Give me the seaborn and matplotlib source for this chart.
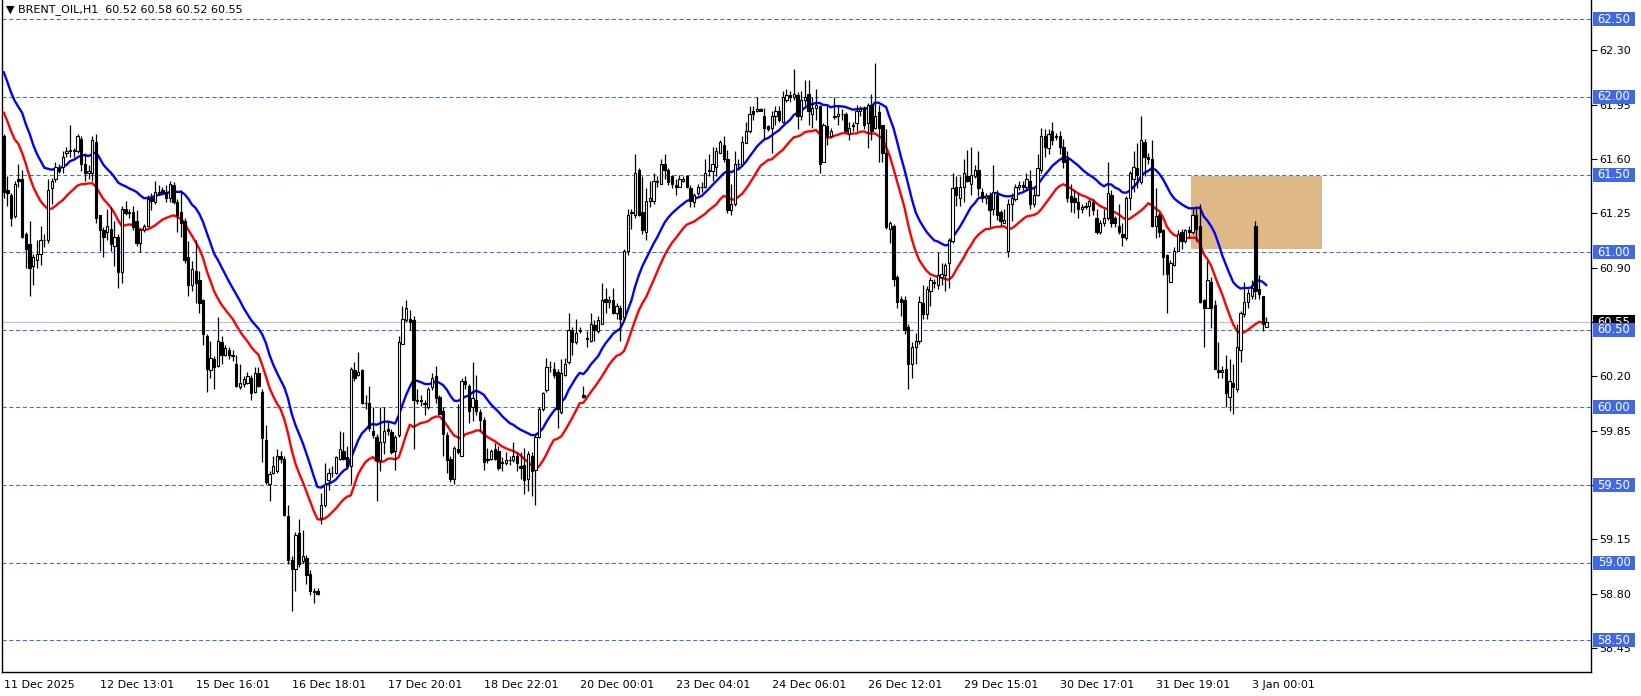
import numpy as np
import pandas as pd
import matplotlib
matplotlib.use("Agg")
import matplotlib.pyplot as plt
import matplotlib.transforms as mtransforms
from matplotlib.patches import Rectangle
import seaborn as sns

sns.set_theme(style="white")
plt.rcParams["font.family"] = ["DejaVu Sans"]

# ---------------- data ----------------
symbol = "BRENT_OIL,H1"

open_ = [
    61.75, 61.40, 61.37, 61.23, 61.47, 61.47, 61.12, 61.05, 60.91, 60.95, 60.99, 61.08, 61.08, 61.41, 61.47, 61.54, 61.55,
    61.64, 61.65, 61.65, 61.65, 61.73, 61.57, 61.51, 61.51, 61.71, 61.24, 61.14, 61.13, 61.15, 61.04, 61.10, 60.87, 61.28,
    61.25, 61.26, 61.20, 61.06, 61.14, 61.17, 61.35, 61.32, 61.38, 61.40, 61.39, 61.35, 61.43, 61.32, 61.26, 61.20, 60.97,
    60.79, 60.88, 60.82, 60.69, 60.46, 60.24, 60.31, 60.27, 60.42, 60.34, 60.37, 60.34, 60.28, 60.13, 60.15, 60.16, 60.19,
    60.10, 60.22, 60.10, 59.79, 59.51, 59.58, 59.59, 59.69, 59.67, 59.30, 59.02, 58.96, 59.19, 59.01, 59.03, 58.93, 58.81,
    58.82, 59.29, 59.37, 59.53, 59.58, 59.58, 59.67, 59.72, 59.68, 59.62, 60.24, 60.21, 60.24, 60.03, 60.03, 59.85, 59.81,
    59.66, 59.78,
    59.86, 59.84, 59.72, 59.82, 60.41, 60.56, 60.57, 60.56, 60.04, 60.05, 60.03, 60.00, 60.13, 60.20, 60.07, 59.98, 59.82,
    59.67, 59.54, 59.73, 59.69, 60.17, 60.14, 60.00, 60.05, 59.97, 59.92, 59.66, 59.67, 59.73, 59.72, 59.64, 59.64, 59.66,
    59.66, 59.69, 59.62, 59.63, 59.54, 59.69, 59.60, 59.81, 59.99, 60.11, 60.26, 60.25, 60.23, 59.97, 60.21, 60.29,
    60.50, 60.42, 60.49, 60.08, 60.44, 60.43, 60.53, 60.49, 60.54, 60.70, 60.68, 60.69, 60.61, 60.64, 60.58, 61.01, 61.25,
    61.24, 61.53, 61.26, 61.13, 61.33, 61.33, 61.46, 61.44, 61.57, 61.53, 61.49, 61.43, 61.42, 61.46, 61.49, 61.41, 61.32,
    61.38, 61.42, 61.42, 61.52, 61.52, 61.55, 61.64, 61.69, 61.60, 61.27, 61.31, 61.57, 61.57, 61.70, 61.78, 61.91, 61.91,
    61.92,
    61.88, 61.81, 61.80, 61.88, 61.91, 61.84, 61.98, 62.01, 62.00, 62.01, 61.88, 61.98, 62.02, 61.89, 61.93, 61.94, 61.58,
    61.81, 61.75, 61.87, 61.88, 61.89, 61.89, 61.76, 61.81, 61.83, 61.91, 61.93, 61.83, 61.95, 61.80, 61.90, 61.82, 61.64,
    61.15, 61.17, 60.84, 60.70, 60.69, 60.52, 60.28, 60.39, 60.43, 60.67, 60.60, 60.75, 60.80, 60.79, 60.84, 60.85, 60.93,
    61.07, 61.42, 61.35, 61.42, 61.49, 61.44, 61.49, 61.53, 61.39, 61.35, 61.36, 61.28, 61.37, 61.26, 61.19, 61.01, 61.31,
    61.34, 61.42, 61.43, 61.42, 61.46, 61.31, 61.37, 61.53, 61.75, 61.67, 61.78, 61.74, 61.75, 61.68, 61.60, 61.36, 61.35,
    61.32, 61.28, 61.30, 61.30, 61.32, 61.22, 61.13, 61.19, 61.22, 61.37, 61.22, 61.17, 61.12, 61.09, 61.35, 61.47, 61.54,
    61.45, 61.71, 61.61, 61.60, 61.17, 61.24, 61.14, 60.98, 60.81, 60.92, 61.01, 61.13, 61.07, 61.14, 61.13, 61.24, 61.17,
    60.69, 60.64, 60.81, 60.66, 60.24, 60.23, 60.25, 60.07, 60.16, 60.12, 60.37, 60.60, 60.68, 60.72, 61.17, 60.76, 60.72,
    60.52,
]
high = [
    61.76, 61.49, 61.38, 61.46, 61.57, 61.53, 61.13, 61.20, 60.99, 61.08, 61.17, 61.12, 61.47, 61.48, 61.58, 61.57, 61.65,
    61.68, 61.82, 61.67, 61.76, 61.75, 61.64, 61.56, 61.75, 61.76, 61.24, 61.16, 61.28, 61.29, 61.20, 61.12, 61.30, 61.33,
    61.28, 61.30, 61.27, 61.15, 61.18, 61.37, 61.38, 61.46, 61.43, 61.42, 61.43, 61.46, 61.45, 61.34, 61.40, 61.22, 61.07,
    60.94, 61.08, 60.88, 60.70, 60.47, 60.43, 60.33, 60.58, 60.46, 60.40, 60.39, 60.37, 60.34, 60.28, 60.20, 60.23, 60.21,
    60.26, 60.26, 60.12, 59.89, 59.59, 59.69, 59.73, 59.72, 59.69, 59.37, 59.04, 59.20, 59.28, 59.21, 59.05, 58.95, 58.84,
    58.84, 59.45, 59.64, 59.61, 59.62, 59.69, 59.85, 59.84, 59.75, 60.26, 60.29, 60.36, 60.25, 60.08, 60.14, 60.00, 59.83,
    60.00, 60.00,
    59.91, 59.86, 59.82, 60.46, 60.65, 60.69, 60.63, 60.59, 60.12, 60.08, 60.05, 60.13, 60.22, 60.27, 60.08, 60.00, 59.84,
    59.69, 59.75, 60.02, 60.19, 60.20, 60.15, 60.29, 60.21, 59.99, 59.94, 59.74, 59.73, 59.77, 59.75, 59.68, 59.71, 59.69,
    59.78, 59.71, 59.71, 59.74, 59.72, 59.71, 59.83, 60.00, 60.10, 60.32, 60.30, 60.29, 60.25, 60.31, 60.32, 60.61,
    60.52, 60.57, 60.52, 60.14, 60.49, 60.61, 60.56, 60.59, 60.80, 60.77, 60.72, 60.77, 60.67, 60.66, 61.02, 61.28, 61.28,
    61.63, 61.54, 61.49, 61.41, 61.46, 61.51, 61.49, 61.60, 61.63, 61.54, 61.50, 61.47, 61.50, 61.49, 61.50, 61.43, 61.38,
    61.44, 61.45, 61.60, 61.63, 61.68, 61.68, 61.72, 61.75, 61.66, 61.44, 61.65, 61.60, 61.75, 61.84, 61.94, 61.94, 62.00,
    61.93,
    61.93, 61.82, 61.91, 61.94, 61.94, 62.04, 62.05, 62.04, 62.18, 62.03, 62.04, 62.11, 62.11, 62.00, 62.05, 61.95, 61.83,
    61.94, 61.80, 62.00, 61.95, 61.92, 61.90, 61.84, 61.84, 61.95, 61.94, 61.94, 61.96, 62.02, 62.22, 61.95, 61.82, 61.79,
    61.20, 61.18, 60.85, 60.72, 60.72, 60.54, 60.42, 60.48, 60.72, 60.79, 60.78, 60.84, 60.83, 61.00, 60.93, 60.93, 61.09,
    61.51, 61.49, 61.49, 61.60, 61.66, 61.68, 61.56, 61.65, 61.41, 61.38, 61.39, 61.56, 61.40, 61.27, 61.28, 61.34, 61.38,
    61.44, 61.46, 61.46, 61.51, 61.53, 61.42, 61.63, 61.80, 61.79, 61.79, 61.84, 61.77, 61.78, 61.73, 61.65, 61.44, 61.40,
    61.38, 61.31, 61.32, 61.34, 61.34, 61.28, 61.21, 61.28, 61.58, 61.40, 61.23, 61.31, 61.19, 61.36, 61.52, 61.65, 61.70,
    61.88, 61.73, 61.64, 61.72, 61.41, 61.26, 61.15, 60.99, 60.95, 61.03, 61.14, 61.15, 61.15, 61.17, 61.28, 61.30, 61.31,
    60.70, 60.94, 60.84, 60.69, 60.42, 60.27, 60.34, 60.31, 60.28, 60.54, 60.62, 60.81, 60.76, 60.82, 61.20, 60.85, 60.72,
    60.58,
]
low = [
    61.35, 61.30, 61.17, 61.22, 61.42, 61.09, 60.90, 60.72, 60.79, 60.90, 60.92, 61.03, 61.06, 61.31, 61.45, 61.51, 61.51,
    61.61, 61.61, 61.61, 61.64, 61.52, 61.46, 61.47, 61.46, 61.19, 61.01, 60.97, 61.08, 61.01, 60.91, 60.77, 60.80, 61.24,
    61.22, 61.14, 61.04, 61.00, 61.13, 61.16, 61.27, 61.31, 61.37, 61.38, 61.32, 61.32, 61.31, 61.13, 61.10, 60.93, 60.72,
    60.75, 60.67, 60.61, 60.40, 60.10, 60.19, 60.12, 60.26, 60.28, 60.33, 60.31, 60.30, 60.13, 60.12, 60.13, 60.15, 60.05,
    60.09, 60.13, 59.65, 59.51, 59.40, 59.57, 59.58, 59.64, 59.30, 58.99, 58.69, 58.82, 58.97, 59.00, 58.86, 58.79, 58.74,
    58.79, 59.25, 59.36, 59.47, 59.55, 59.57, 59.66, 59.66, 59.61, 59.51, 60.17, 60.20, 60.02, 59.99, 59.85, 59.80, 59.40,
    59.59, 59.70,
    59.82, 59.70, 59.60, 59.81, 60.41, 60.55, 60.50, 59.73, 60.02, 60.01, 59.95, 59.99, 60.11, 60.03, 59.96, 59.69, 59.58,
    59.52, 59.51, 59.70, 59.69, 60.12, 59.90, 59.91, 59.95, 59.85, 59.60, 59.64, 59.66, 59.66, 59.60, 59.59, 59.63, 59.63,
    59.65, 59.59, 59.54, 59.44, 59.46, 59.43, 59.37, 59.80, 59.98, 60.10, 60.23, 60.19, 59.87, 59.96, 60.20, 60.28,
    60.34, 60.41, 60.48, 60.06, 60.39, 60.42, 60.43, 60.48, 60.54, 60.61, 60.64, 60.60, 60.57, 60.43, 60.57, 60.98, 61.15,
    61.22, 61.23, 61.12, 61.08, 61.29, 61.31, 61.42, 61.44, 61.47, 61.43, 61.41, 61.37, 61.42, 61.45, 61.41, 61.29, 61.29,
    61.37, 61.39, 61.41, 61.49, 61.46, 61.49, 61.64, 61.58, 61.25, 61.24, 61.30, 61.54, 61.56, 61.70, 61.77, 61.85, 61.90,
    61.91,
    61.73, 61.78, 61.64, 61.82, 61.84, 61.83, 61.97, 61.97, 61.98, 61.79, 61.85, 61.95, 61.82, 61.80, 61.85, 61.51, 61.58,
    61.69, 61.74, 61.86, 61.82, 61.85, 61.77, 61.72, 61.78, 61.78, 61.88, 61.79, 61.67, 61.72, 61.79, 61.58, 61.58, 61.15,
    61.06, 60.78, 60.64, 60.59, 60.47, 60.12, 60.19, 60.28, 60.41, 60.57, 60.57, 60.65, 60.77, 60.76, 60.79, 60.75, 60.77,
    61.06, 61.30, 61.30, 61.32, 61.45, 61.37, 61.48, 61.36, 61.32, 61.31, 61.16, 61.24, 61.21, 61.17, 61.19, 60.97, 61.20,
    61.33, 61.40, 61.40, 61.40, 61.28, 61.29, 61.36, 61.51, 61.61, 61.63, 61.69, 61.72, 61.63, 61.54, 61.32, 61.26, 61.25,
    61.22, 61.25, 61.28, 61.23, 61.24, 61.12, 61.12, 61.17, 61.21, 61.16, 61.16, 61.12, 61.04, 61.08, 61.27, 61.39, 61.41,
    61.44, 61.49, 61.57, 61.16, 61.09, 61.10, 60.85, 60.61, 60.81, 60.91, 61.01, 61.02, 61.06, 61.10, 61.12, 61.07, 60.67,
    60.39, 60.64, 60.51, 60.25, 60.19, 60.19, 60.00, 59.98, 59.96, 60.10, 60.29, 60.58, 60.64, 60.70, 60.70, 60.70, 60.49,
    60.52,
]
close = [
    61.39, 61.38, 61.22, 61.44, 61.46, 61.10, 61.02, 60.90, 60.97, 60.99, 61.08, 61.08, 61.40, 61.46, 61.55, 61.52, 61.61,
    61.65, 61.66, 61.66, 61.75, 61.57, 61.51, 61.52, 61.72, 61.22, 61.14, 61.10, 61.17, 61.05, 61.10, 60.87, 61.28, 61.25,
    61.26, 61.16, 61.06, 61.14, 61.17, 61.34, 61.33, 61.39, 61.39, 61.39, 61.35, 61.44, 61.32, 61.24, 61.19, 60.95, 60.79,
    60.89, 60.80, 60.67, 60.47, 60.25, 60.32, 60.26, 60.43, 60.34, 60.38, 60.34, 60.33, 60.14, 60.16, 60.18, 60.20, 60.09,
    60.22, 60.14, 59.80, 59.52, 59.57, 59.62, 59.69, 59.67, 59.31, 59.02, 58.96, 59.18, 58.99, 59.04, 58.92, 58.82, 58.82,
    58.80, 59.37, 59.51, 59.58, 59.58, 59.68, 59.73, 59.67, 59.62, 60.25, 60.19, 60.23, 60.03, 60.03, 59.87, 59.82, 59.66,
    59.78, 59.85,
    59.85, 59.71, 59.81, 60.42, 60.57, 60.64, 60.55, 60.05, 60.05, 60.04, 60.02, 60.12, 60.19, 60.06, 59.96, 59.83, 59.66,
    59.54, 59.74, 59.71, 60.17, 60.15, 59.98, 60.06, 59.98, 59.92, 59.65, 59.67, 59.72, 59.67, 59.61, 59.65, 59.66, 59.66,
    59.69, 59.64, 59.61, 59.53, 59.70, 59.59, 59.81, 59.99, 60.09, 60.26, 60.26, 60.21, 59.99, 60.22, 60.28, 60.50,
    60.42, 60.48, 60.50, 60.07, 60.45, 60.54, 60.50, 60.56, 60.69, 60.68, 60.69, 60.61, 60.65, 60.57, 61.01, 61.24, 61.26,
    61.51, 61.24, 61.14, 61.33, 61.35, 61.46, 61.45, 61.57, 61.53, 61.45, 61.44, 61.42, 61.47, 61.47, 61.42, 61.33, 61.37,
    61.42, 61.42, 61.51, 61.53, 61.57, 61.65, 61.71, 61.60, 61.27, 61.31, 61.57, 61.57, 61.71, 61.78, 61.89, 61.89, 61.92,
    61.91,
    61.80, 61.79, 61.88, 61.91, 61.85, 62.00, 62.01, 62.00, 62.02, 61.88, 61.98, 62.00, 61.91, 61.93, 61.95, 61.57, 61.82,
    61.75, 61.78, 61.88, 61.89, 61.89, 61.78, 61.80, 61.82, 61.91, 61.92, 61.82, 61.95, 61.78, 61.88, 61.80, 61.64, 61.16,
    61.19, 60.83, 60.68, 60.68, 60.50, 60.28, 60.39, 60.43, 60.68, 60.60, 60.76, 60.82, 60.81, 60.85, 60.86, 60.92, 61.08,
    61.41, 61.37, 61.42, 61.51, 61.46, 61.50, 61.53, 61.41, 61.35, 61.36, 61.27, 61.39, 61.24, 61.20, 61.21, 61.31, 61.35,
    61.42, 61.43, 61.42, 61.47, 61.31, 61.37, 61.54, 61.75, 61.68, 61.76, 61.72, 61.75, 61.68, 61.58, 61.35, 61.32, 61.32,
    61.28, 61.29, 61.29, 61.33, 61.27, 61.13, 61.19, 61.22, 61.38, 61.19, 61.19, 61.13, 61.10, 61.35, 61.51, 61.55, 61.50,
    61.72, 61.61, 61.60, 61.17, 61.23, 61.13, 60.97, 60.86, 60.93, 61.01, 61.12, 61.07, 61.14, 61.13, 61.24, 61.15, 60.68,
    60.64, 60.82, 60.64, 60.25, 60.23, 60.24, 60.09, 60.17, 60.13, 60.39, 60.61, 60.68, 60.74, 60.77, 60.75, 60.73, 60.54,
    60.55,
]
# moving averages: EMA(20) of highs (blue) and of lows (red); values at the first visible bar
ma_period = 20
ma_high_start = 62.16
ma_low_start = 61.90

levels = [62.50, 62.00, 61.50, 61.00, 60.50, 60.00, 59.50, 59.00, 58.50]
price_ticks = [62.30, 61.95, 61.60, 61.25, 60.90, 60.55, 60.20, 59.85, 59.50, 59.15, 58.80, 58.45]
time_labels = ["11 Dec 2025", "12 Dec 13:01", "15 Dec 16:01", "16 Dec 18:01", "17 Dec 20:01",
               "18 Dec 22:01", "20 Dec 00:01", "23 Dec 04:01", "24 Dec 06:01", "26 Dec 12:01",
               "29 Dec 15:01", "30 Dec 17:01", "31 Dec 19:01", "3 Jan 00:01"]
bars_per_label = 26
zone_start_bar, zone_end_bar = 321.6, 357.1
zone_low, zone_high = 61.02, 61.49

# ---------------- frame ----------------
n = len(close)
df = pd.DataFrame({"bar": np.arange(n), "open": open_, "high": high, "low": low, "close": close})
df["ma_high"] = pd.Series([ma_high_start] + high[1:]).ewm(span=ma_period, adjust=False).mean().to_numpy()
df["ma_low"] = pd.Series([ma_low_start] + low[1:]).ewm(span=ma_period, adjust=False).mean().to_numpy()

W, H = 1641, 696
fig = plt.figure(figsize=(W / 100, H / 100), dpi=100)
fig.patch.set_facecolor("white")
ax = fig.add_axes([2 / W, 24 / H, 1589 / W, 672 / H])
ax.set_facecolor("white")

ax.set_xlim(-0.46, 429.9)
ax.set_ylim(58.296, 62.624)

# level lines
lvl_color = "#4169E1"
for lv in levels:
    ax.axhline(lv, color=lvl_color, lw=0.75, linestyle=(0, (4, 2.5)), zorder=1)

# bid line
last_close = close[-1]
ax.axhline(last_close, color="#c0c0c0", lw=0.8, zorder=1)

# zone
ax.add_patch(Rectangle((zone_start_bar, zone_low), zone_end_bar - zone_start_bar, zone_high - zone_low,
                       facecolor="#DEB887", edgecolor="none", zorder=0.8))

# moving averages
sns.lineplot(data=df, x="bar", y="ma_high", color="#0000FF", lw=1.7, ax=ax, legend=False, zorder=3)
sns.lineplot(data=df, x="bar", y="ma_low", color="#FF0000", lw=1.7, ax=ax, legend=False, zorder=3)

# candles
o = df["open"].to_numpy(); c = df["close"].to_numpy()
up = c >= o
ax.vlines(df["bar"], df["low"], df["high"], color="black", lw=0.9, zorder=4)
bottom = np.minimum(o, c)
height = np.abs(c - o)
ax.bar(df["bar"], height, bottom=bottom, width=0.62,
       color=np.where(up, "white", "black"), edgecolor="black", linewidth=0.8, zorder=5)

# axes cosmetics
ax.set_xlabel(""); ax.set_ylabel("")
ax.grid(False)
for s in ["left", "bottom", "right"]:
    ax.spines[s].set_color("black"); ax.spines[s].set_linewidth(1.0)
ax.spines["top"].set_visible(False)

ax.yaxis.tick_right()
ax.set_yticks(price_ticks)
ax.set_yticklabels([f"{t:.2f}" for t in price_ticks])
ax.tick_params(axis="y", which="both", direction="out", length=4, width=0.8, pad=2,
               labelsize=8, colors="black", left=False, right=True)

ax.set_xticks([k * bars_per_label for k in range(len(time_labels))])
ax.set_xticklabels(time_labels)
ax.tick_params(axis="x", direction="out", length=4, width=0.8, pad=1.5, labelsize=8, colors="black")
for lab in ax.get_xticklabels():
    lab.set_ha("left")

# price label boxes on the right
trans = mtransforms.blended_transform_factory(ax.transAxes, ax.transData)
box_x0 = (1593 - 2) / 1589
box_w = 42 / 1589
box_h = 14 / 155.25
text_x = box_x0 + box_w / 2
ax.add_patch(Rectangle((box_x0, last_close - box_h / 2), box_w, box_h, transform=trans,
                       facecolor="black", edgecolor="none", clip_on=False, zorder=10))
ax.text(text_x, last_close, f"{last_close:.2f}", transform=trans, color="white", ha="center",
        va="center", fontsize=8.3, clip_on=False, zorder=11)
for lv in levels:
    ax.add_patch(Rectangle((box_x0, lv - box_h / 2), box_w, box_h, transform=trans,
                           facecolor=lvl_color, edgecolor="none", clip_on=False, zorder=12))
    ax.text(text_x, lv, f"{lv:.2f}", transform=trans, color="white", ha="center", va="center",
            fontsize=8.3, clip_on=False, zorder=13)

# header
fig.text(6 / W, 1 - 10 / H,
         f"\u25BC {symbol}  {open_[-1]:.2f} {high[-1]:.2f} {low[-1]:.2f} {close[-1]:.2f}",
         fontsize=8, color="black", va="center", ha="left")

fig.savefig("out.png", dpi=100, facecolor="white")
